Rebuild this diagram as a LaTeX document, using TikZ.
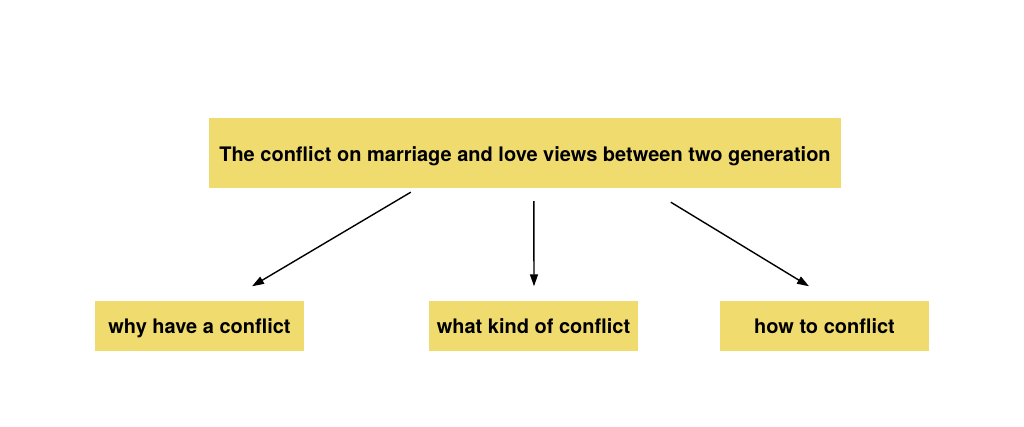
\documentclass[tikz,border=0pt]{standalone}
\usepackage{fontspec}
\setmainfont{TeX Gyre Heros}
\usetikzlibrary{calc,arrows.meta}
\definecolor{boxyellow}{RGB}{240,220,110}

\begin{document}
\begin{tikzpicture}[x=1pt,y=-1pt]
            \useasboundingbox (0,0) rectangle (1024,427);
            \tikzstyle{every node}=[fill=boxyellow,inner sep=0pt,text height=17.5pt,text depth=1pt,font=\fontsize{20}{24}\selectfont\bfseries]
            \tikzstyle{arr}=[line width=1.4pt,-{Triangle[length=12pt,width=8pt]}]
            \node[minimum width=632pt,minimum height=70pt] (top) at (525,153) {The conflict on marriage and love views between two generation};
            \node[minimum width=209pt,minimum height=50pt] (why) at (199.5,325.5) {why have a conflict};
            \node[minimum width=209pt,minimum height=50pt] (kind) at (533.5,325.5) {what kind of conflict};
            \node[minimum width=209pt,minimum height=50pt] (how) at (824.5,325.5) {how to conflict};
            \draw[arr] ($(top.south west)+(202,4)$) -- ($(why.north)+(52.5,-14)$);
            \draw[arr] ($(top.south west)+(325,13)$) -- ($(kind.north)+(0.5,-14)$);
            \draw[arr] ($(top.south west)+(462,14)$) -- ($(how.north)+(-15.5,-14)$);
        \end{tikzpicture}
\end{document}
